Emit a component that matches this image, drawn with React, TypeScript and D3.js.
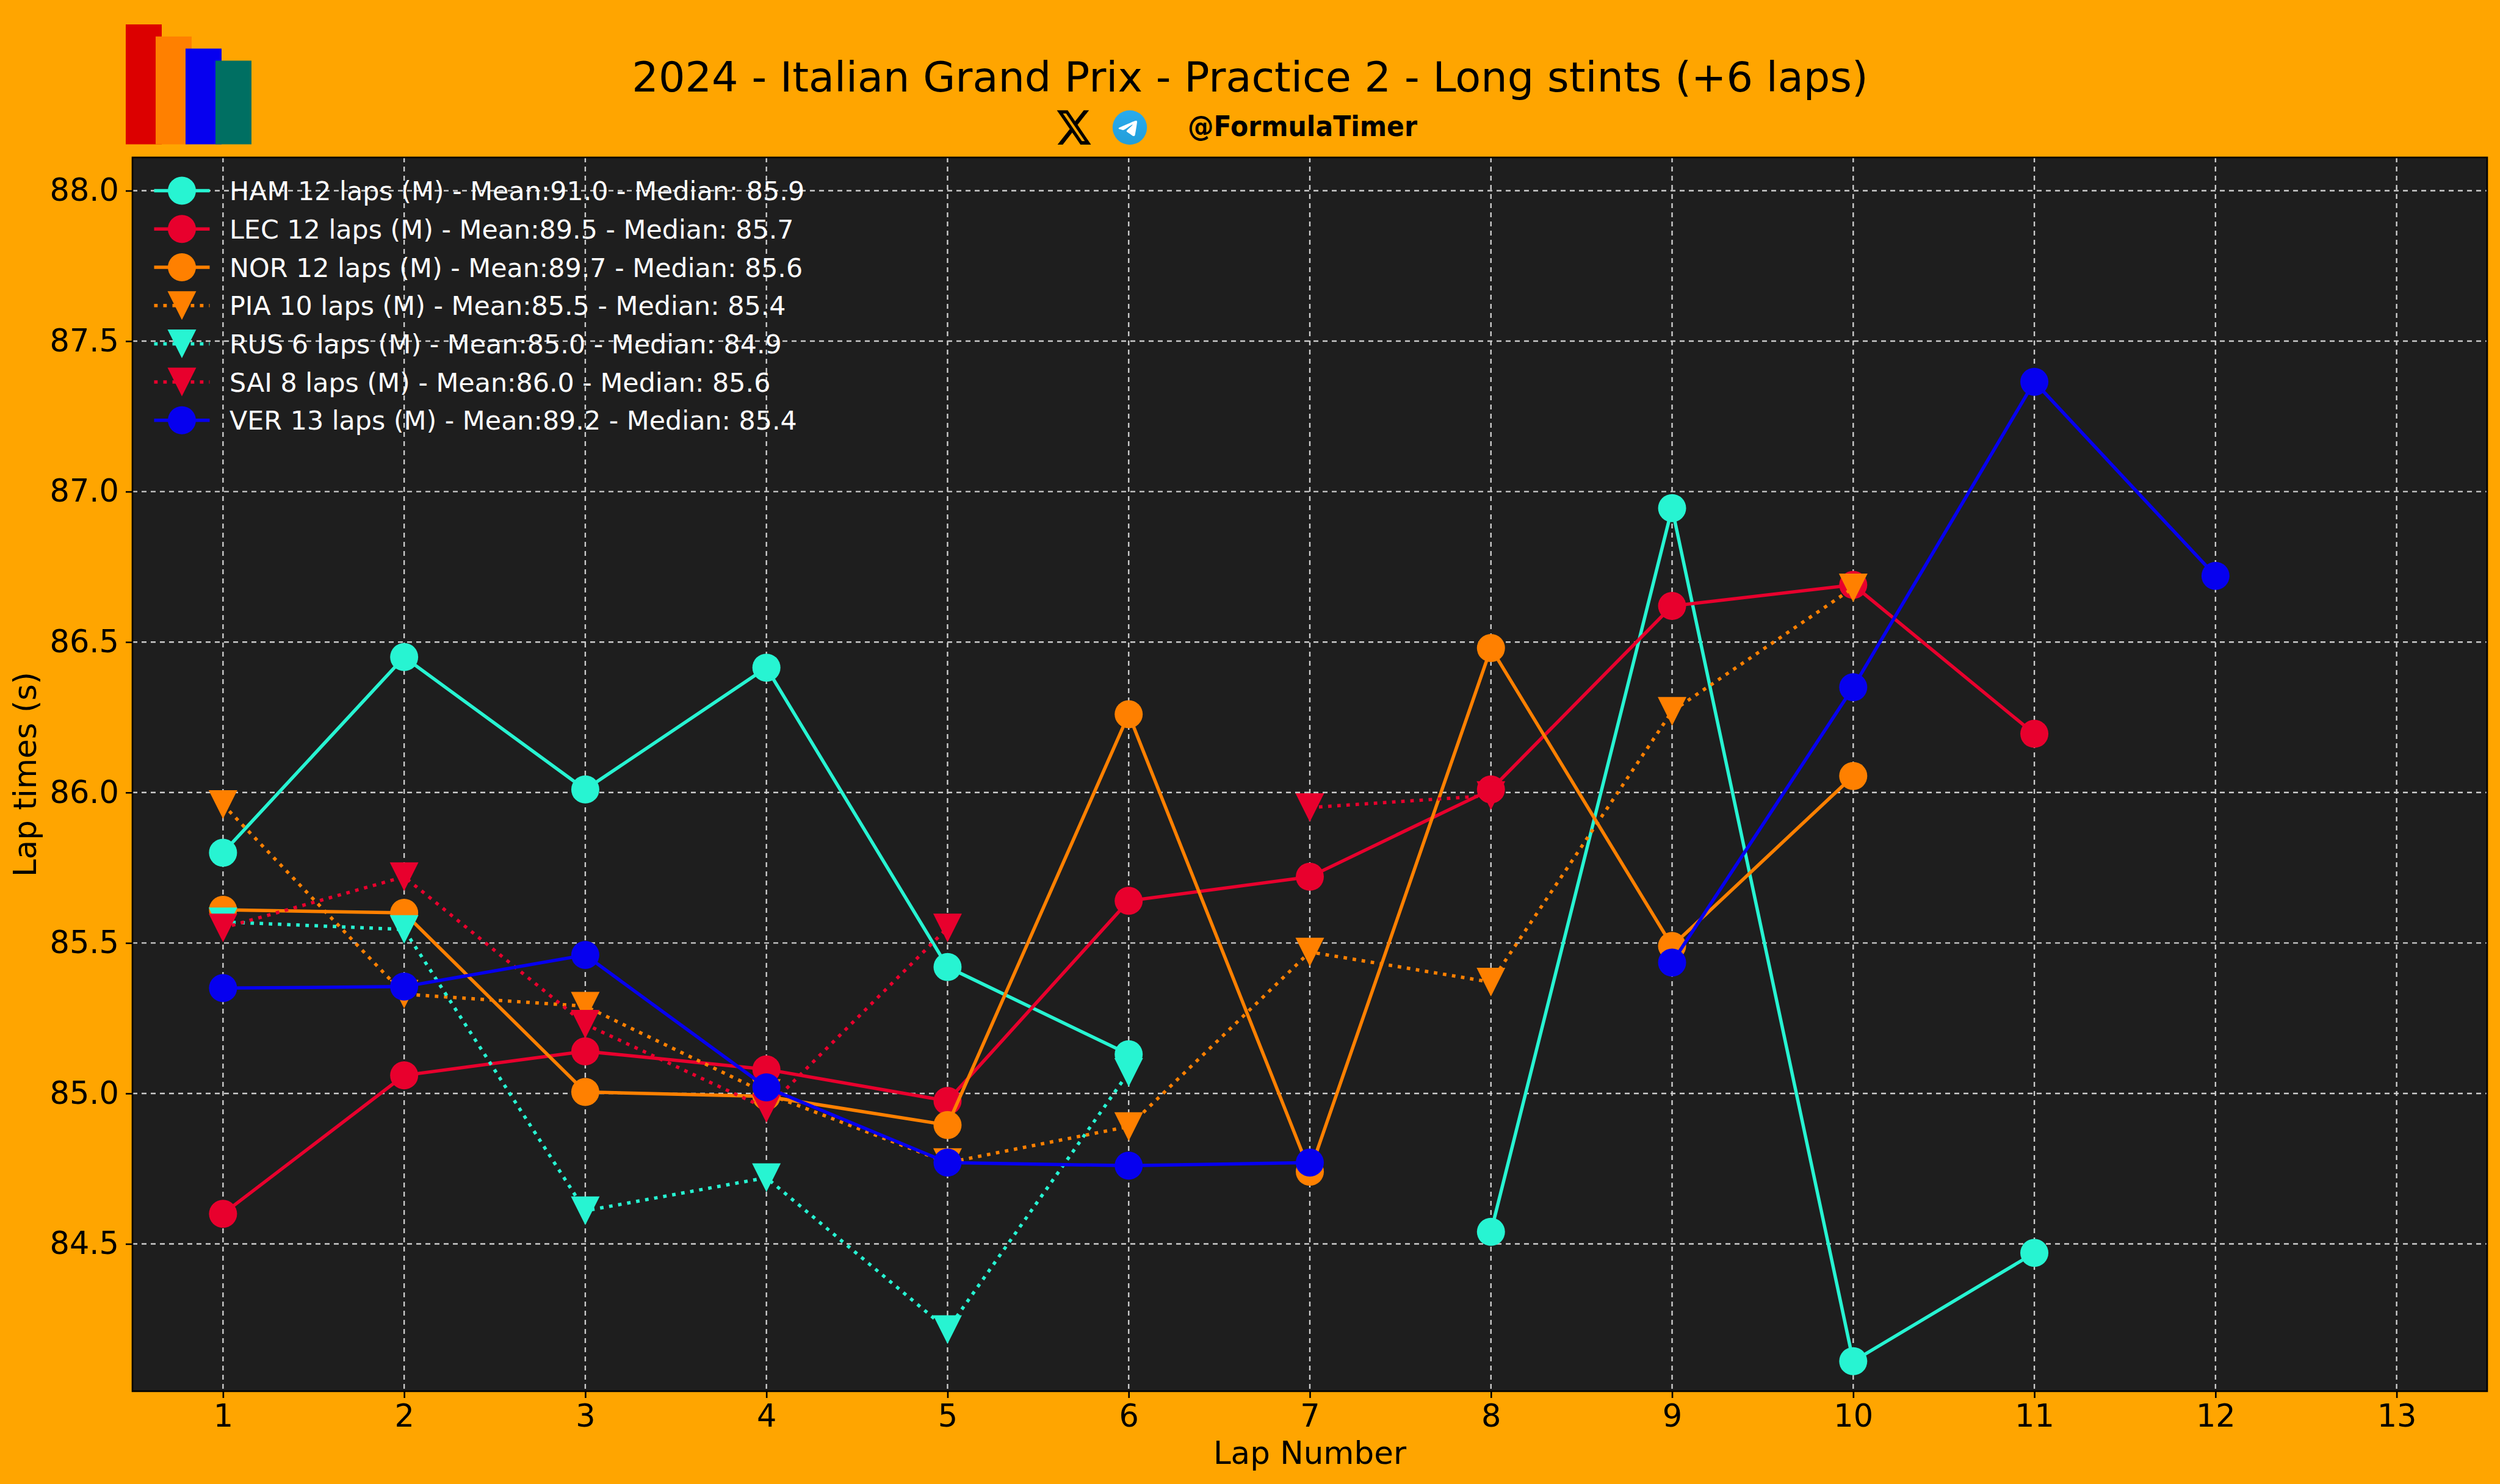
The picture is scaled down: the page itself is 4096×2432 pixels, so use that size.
import * as d3 from 'd3';
import { useEffect, useRef } from 'react';

const width = 4096;
const height = 2432;
const margin = { top: 258, right: 21, bottom: 152, left: 217 };

const FONT = '"DejaVu Sans", sans-serif';

const laps = d3.range(1, 14);
const yTicks = [84.5, 85.0, 85.5, 86.0, 86.5, 87.0, 87.5, 88.0];

// null = lap filtered out of the stint
const hamTimes = [85.8, 86.45, 86.01, 86.415, 85.42, 85.13, null, 84.54, 86.945, 84.11, 84.47, null];
const lecTimes = [84.6, 85.06, 85.14, 85.08, 84.975, 85.64, 85.72, 86.01, 86.62, 86.69, 86.195];
const norTimes = [85.61, 85.6, 85.005, 84.99, 84.895, 86.26, 84.74, 86.48, 85.49, 86.055];
const piaTimes = [85.96, 85.33, 85.29, 85.0, 84.77, 84.89, 85.47, 85.37, 86.27, 86.68];
const rusTimes = [85.57, 85.545, 84.61, 84.72, 84.215, 85.07];
const saiTimes = [85.55, 85.72, 85.23, 84.95, 85.55, null, 85.95, 85.99];
const verTimes = [85.35, 85.355, 85.46, 85.02, 84.77, 84.76, 84.77, null, 85.435, 86.35, 87.365, 86.72];

const drivers = [
  { label: 'HAM 12 laps (M) - Mean:91.0 - Median: 85.9', times: hamTimes, color: '#27F4D2', dotted: false },
  { label: 'LEC 12 laps (M) - Mean:89.5 - Median: 85.7', times: lecTimes, color: '#E8002D', dotted: false },
  { label: 'NOR 12 laps (M) - Mean:89.7 - Median: 85.6', times: norTimes, color: '#FF8000', dotted: false },
  { label: 'PIA 10 laps (M) - Mean:85.5 - Median: 85.4', times: piaTimes, color: '#FF8000', dotted: true },
  { label: 'RUS 6 laps (M) - Mean:85.0 - Median: 84.9', times: rusTimes, color: '#27F4D2', dotted: true },
  { label: 'SAI 8 laps (M) - Mean:86.0 - Median: 85.6', times: saiTimes, color: '#E8002D', dotted: true },
  { label: 'VER 13 laps (M) - Mean:89.2 - Median: 85.4', times: verTimes, color: '#0600EF', dotted: false },
];

const logoBars = ['#DC0000', '#FF8000', '#0600EF', '#006F62'];

const X_PATH =
  'M18.244 2.25h3.308l-7.227 8.26 8.502 11.24H16.17l-5.214-6.817L4.99 21.75H1.68l7.73-8.835L1.254 2.25H8.08l4.713 6.231zm-1.161 17.52h1.833L7.084 4.126H5.117z';
const PLANE_PATH =
  'M54.3 118.8c35-15.2 58.3-25.3 70-30.2 33.3-13.9 40.3-16.3 44.8-16.4 1 0 3.2.2 4.7 1.4 1.2 1 1.5 2.3 1.7 3.3s.4 3.1.2 4.7c-1.8 19-9.6 65.1-13.6 86.3-1.7 9-5 12-8.2 12.3-7 .6-12.3-4.6-19-9-10.6-6.9-16.5-11.2-26.8-18-11.9-7.8-4.2-12.1 2.6-19.1 1.8-1.8 32.5-29.8 33.1-32.3.1-.3.1-1.5-.6-2.1-.7-.6-1.7-.4-2.5-.2-1.1.2-17.9 11.4-50.6 33.5-4.8 3.3-9.1 4.9-13 4.8-4.3-.1-12.5-2.4-18.7-4.4-7.5-2.4-13.5-3.7-13-7.9.3-2.2 3.3-4.4 8.9-6.7z';

const markerSize = 46;
const triSize = 47;
const triangle = `M${-triSize / 2},${-triSize / 2}L${triSize / 2},${-triSize / 2}L0,${triSize / 2}Z`;
const dottedDash = '5.8 9.2';

const addMarker = (sel, dotted, color) => {
  if (dotted) {
    sel.append('path').attr('d', triangle).attr('fill', color);
  } else {
    sel.append('circle').attr('r', markerSize / 2).attr('fill', color);
  }
};

export default function App() {
  const containerRef = useRef<HTMLDivElement>(null);

  useEffect(() => {
    document.body.style.margin = '0';
    containerRef.current.innerHTML = '';

    const svg = d3
      .select(containerRef.current)
      .append('svg')
      .attr('width', width)
      .attr('height', height)
      .style('display', 'block')
      .style('font-family', FONT);

    svg.append('rect').attr('width', width).attr('height', height).attr('fill', '#FFA500');

    // header
    logoBars.forEach((c, i) => {
      svg
        .append('rect')
        .attr('x', 206 + i * 49)
        .attr('y', 40 + i * 19.8)
        .attr('width', 59)
        .attr('height', 196.5 - i * 19.8)
        .attr('fill', c);
    });

    svg
      .append('text')
      .attr('x', 2048)
      .attr('y', 150)
      .attr('text-anchor', 'middle')
      .attr('font-size', 68.5)
      .attr('fill', '#000')
      .text('2024 - Italian Grand Prix - Practice 2 - Long stints (+6 laps)');

    svg
      .append('path')
      .attr('d', X_PATH)
      .attr('fill', '#000')
      .attr('transform', 'translate(1728.3,174.2) scale(2.596,2.89)');

    const gradient = svg
      .append('defs')
      .append('linearGradient')
      .attr('id', 'tg')
      .attr('x1', 0)
      .attr('y1', 0)
      .attr('x2', 0)
      .attr('y2', 1);
    gradient.append('stop').attr('offset', '0%').attr('stop-color', '#2AABEE');
    gradient.append('stop').attr('offset', '100%').attr('stop-color', '#229ED9');
    svg.append('circle').attr('cx', 1851).attr('cy', 209).attr('r', 28.2).attr('fill', 'url(#tg)');
    svg
      .append('path')
      .attr('d', PLANE_PATH)
      .attr('fill', '#fff')
      .attr('transform', 'translate(1822,181) scale(0.2333)');

    svg
      .append('text')
      .attr('x', 1946)
      .attr('y', 223)
      .attr('font-size', 47)
      .attr('font-weight', 'bold')
      .attr('fill', '#000')
      .attr('textLength', 376)
      .attr('lengthAdjust', 'spacingAndGlyphs')
      .text('@FormulaTimer');

    // plot area
    const x = d3.scaleLinear().domain([0.5, 13.5]).range([margin.left, width - margin.right]);
    const y = d3
      .scaleLinear()
      .domain([84.5, 88])
      .range([2038.5, 312.5]);

    svg
      .append('rect')
      .attr('x', margin.left)
      .attr('y', margin.top)
      .attr('width', width - margin.left - margin.right)
      .attr('height', height - margin.top - margin.bottom)
      .attr('fill', '#1E1E1E');

    const grid = svg
      .append('g')
      .attr('stroke', '#CCCCCC')
      .attr('stroke-width', 2.4)
      .attr('stroke-dasharray', '8 7');
    laps.forEach((l) => {
      grid
        .append('line')
        .attr('x1', x(l))
        .attr('x2', x(l))
        .attr('y1', margin.top)
        .attr('y2', height - margin.bottom);
    });
    yTicks.forEach((t) => {
      grid
        .append('line')
        .attr('x1', margin.left)
        .attr('x2', width - margin.right)
        .attr('y1', y(t))
        .attr('y2', y(t));
    });

    const xAxis = svg
      .append('g')
      .attr('transform', `translate(0,${height - margin.bottom})`)
      .call(d3.axisBottom(x).tickValues(laps).tickFormat(d3.format('d')).tickSize(11).tickPadding(11));
    const yAxis = svg
      .append('g')
      .attr('transform', `translate(${margin.left},0)`)
      .call(d3.axisLeft(y).tickValues(yTicks).tickFormat(d3.format('.1f')).tickSize(11).tickPadding(11));
    [xAxis, yAxis].forEach((a) => {
      a.select('.domain').remove();
      a.selectAll('.tick line').attr('stroke', '#000').attr('stroke-width', 2.6);
      a.selectAll('.tick text').attr('fill', '#000').attr('font-size', 51).attr('font-family', FONT);
    });

    // one line per driver, broken where a lap was filtered out
    const line = d3
      .line<number | null>()
      .defined((d) => d !== null)
      .x((_, i) => x(laps[i]))
      .y((d) => y(d));

    drivers.forEach((driver) => {
      const g = svg.append('g');
      g.append('path')
        .attr('d', line(driver.times))
        .attr('fill', 'none')
        .attr('stroke', driver.color)
        .attr('stroke-width', 5.5)
        .attr('stroke-dasharray', driver.dotted ? dottedDash : null);
      driver.times.forEach((t, i) => {
        if (t === null) return;
        const m = g.append('g').attr('transform', `translate(${x(laps[i])},${y(t)})`);
        addMarker(m, driver.dotted, driver.color);
      });
    });

    // frame on top of the plot
    svg
      .append('rect')
      .attr('x', margin.left)
      .attr('y', margin.top)
      .attr('width', width - margin.left - margin.right)
      .attr('height', height - margin.top - margin.bottom)
      .attr('fill', 'none')
      .attr('stroke', '#000')
      .attr('stroke-width', 2.6);

    // legend
    const legend = svg.append('g');
    drivers.forEach((driver, i) => {
      const row = legend.append('g').attr('transform', `translate(0,${312.6 + i * 62.7})`);
      row
        .append('line')
        .attr('x1', 252.5)
        .attr('x2', 343.5)
        .attr('stroke', driver.color)
        .attr('stroke-width', 5.5)
        .attr('stroke-dasharray', driver.dotted ? dottedDash : null);
      const m = row.append('g').attr('transform', 'translate(298,0)');
      addMarker(m, driver.dotted, driver.color);
      row
        .append('text')
        .attr('x', 376)
        .attr('y', 15.5)
        .attr('font-size', 42.8)
        .attr('fill', '#fff')
        .text(driver.label);
    });

    // axis titles
    svg
      .append('text')
      .attr('x', 2146)
      .attr('y', 2399)
      .attr('text-anchor', 'middle')
      .attr('font-size', 51.5)
      .attr('fill', '#000')
      .text('Lap Number');
    svg
      .append('text')
      .attr('transform', 'translate(59,1269) rotate(-90)')
      .attr('text-anchor', 'middle')
      .attr('font-size', 51.5)
      .attr('fill', '#000')
      .text('Lap times (s)');
  }, []);

  return <div ref={containerRef}></div>;
}
